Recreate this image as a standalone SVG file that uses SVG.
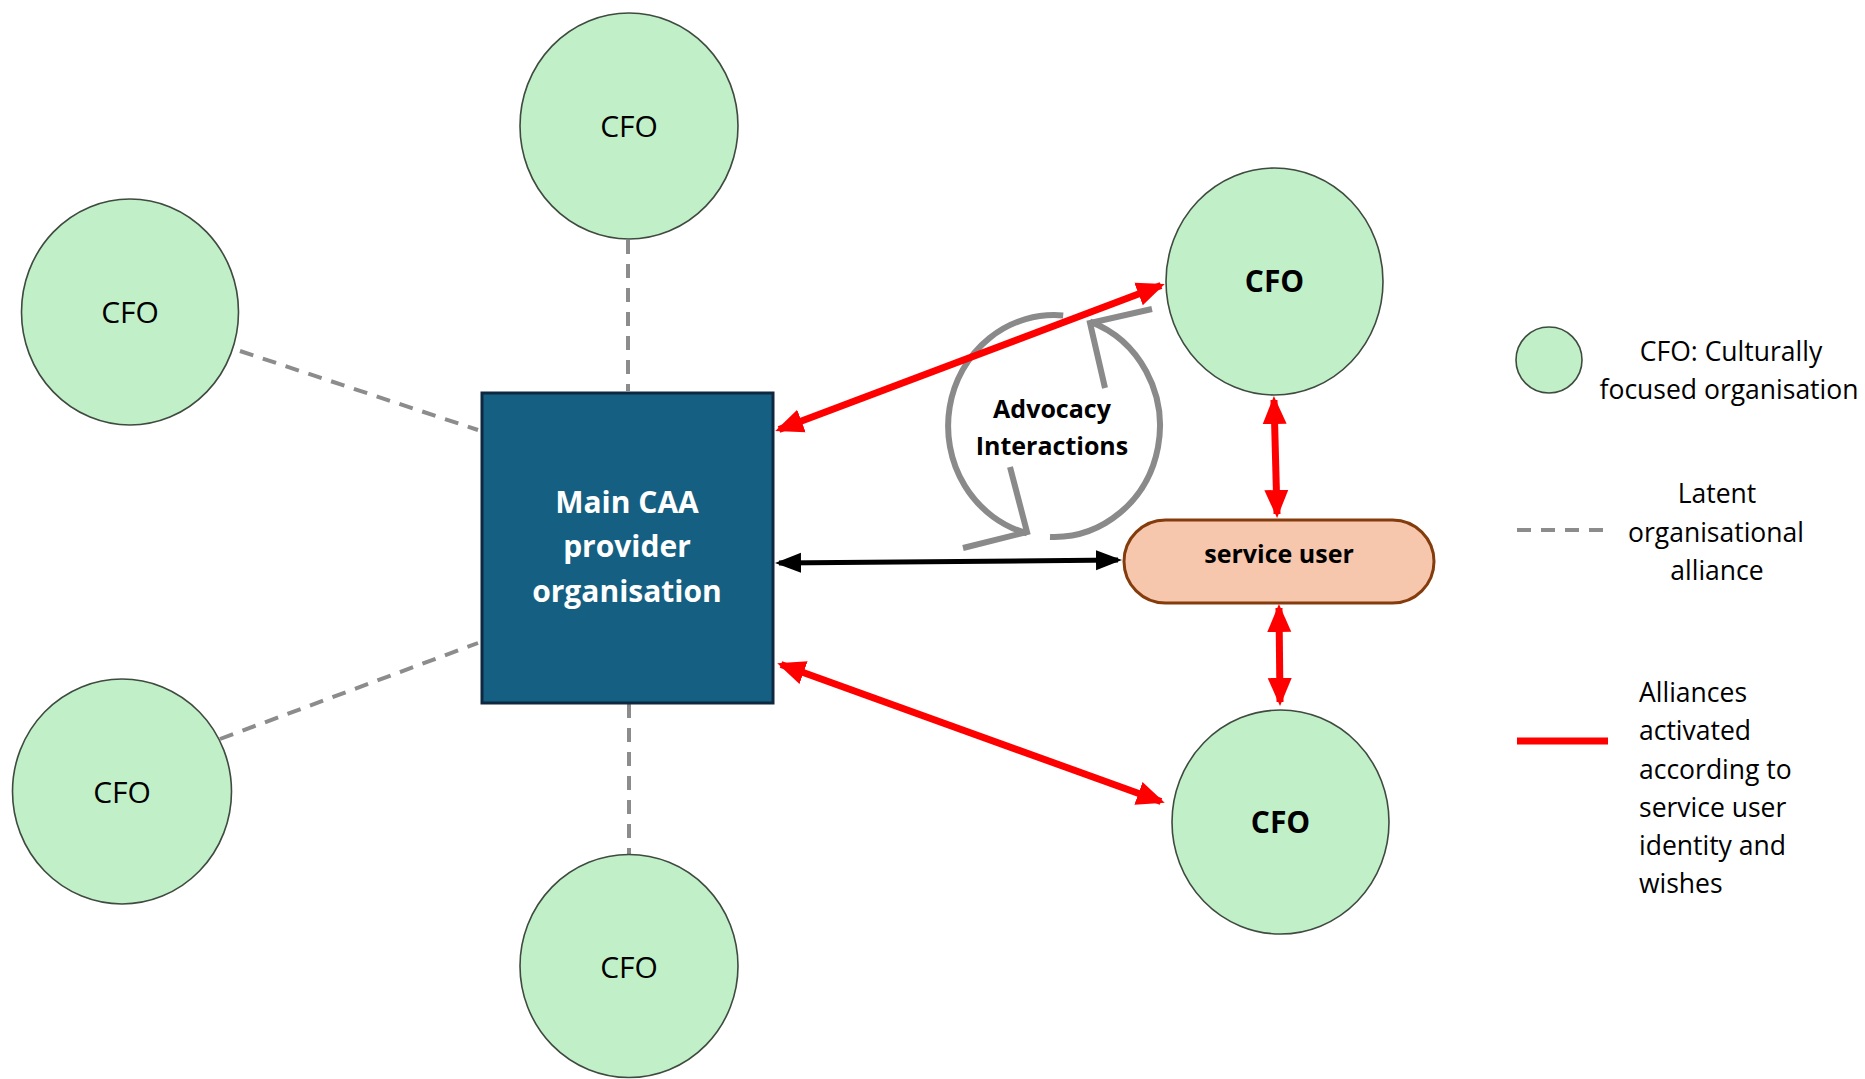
<svg xmlns="http://www.w3.org/2000/svg" width="1865" height="1079" viewBox="0 0 1865 1079">
  <style>
    .cfo { fill: #C1F0C8; stroke: #3f4a40; stroke-width: 1.6; }
    .t { font-family: "Open Sans", "Liberation Sans", sans-serif; fill: #000; text-anchor: middle; }
    .cfot { font-size: 30px; }
    .bold { font-weight: bold; }
    .leg { font-size: 26.5px; }
    .dash { stroke: #8c8c8c; stroke-width: 4; stroke-dasharray: 14 10; fill: none; }
    .red { stroke: #FF0000; stroke-width: 7; fill: none; }
    .blk { stroke: #000; stroke-width: 5; fill: none; }
    .cyc { stroke: #8a8a8a; stroke-width: 6; fill: none; stroke-linejoin: miter; }
  </style>
  <defs>
    <marker id="ar" markerUnits="userSpaceOnUse" markerWidth="30" markerHeight="26" viewBox="0 0 30 26" refX="24" refY="13" orient="auto-start-reverse">
      <path d="M0,1 L28,13 L0,25 Z" fill="#FF0000"/>
    </marker>
    <marker id="ab" markerUnits="userSpaceOnUse" markerWidth="28" markerHeight="24" viewBox="0 0 28 24" refX="22" refY="12" orient="auto-start-reverse">
      <path d="M0,2 L26,12 L0,22 Z" fill="#000"/>
    </marker>
  </defs>
  <rect width="1865" height="1079" fill="#fff"/>

  <g id="connectors">
    <line class="dash" x1="628" y1="240" x2="628" y2="391"/>
    <line class="dash" x1="240" y1="351" x2="478" y2="430"/>
    <line class="dash" x1="220" y1="739" x2="478" y2="643"/>
    <line class="dash" x1="629" y1="704" x2="629" y2="855"/>
  </g>

  <g id="cfo-top">
    <ellipse class="cfo" cx="629" cy="126" rx="109" ry="113"/>
    <text class="t cfot" x="629" y="137">CFO</text>
  </g>
  <g id="cfo-upper-left">
    <ellipse class="cfo" cx="130" cy="312" rx="108.5" ry="113"/>
    <text class="t cfot" x="130" y="323">CFO</text>
  </g>
  <g id="cfo-lower-left">
    <ellipse class="cfo" cx="122" cy="791.5" rx="109.5" ry="112.5"/>
    <text class="t cfot" x="122" y="803">CFO</text>
  </g>
  <g id="cfo-bottom">
    <ellipse class="cfo" cx="629" cy="966" rx="109" ry="111.5"/>
    <text class="t cfot" x="629" y="978">CFO</text>
  </g>
  <g id="cfo-right-top">
    <ellipse class="cfo" cx="1274.5" cy="281.5" rx="108.5" ry="113.5"/>
    <text class="t cfot bold" x="1274.5" y="292">CFO</text>
  </g>
  <g id="cfo-right-bottom">
    <ellipse class="cfo" cx="1280.5" cy="822" rx="108.5" ry="112"/>
    <text class="t cfot bold" x="1280.5" y="833">CFO</text>
  </g>

  <g id="main-caa">
    <rect x="482" y="393" width="291" height="310" fill="#156082" stroke="#0E2841" stroke-width="3"/>
    <text class="t bold" x="627" y="513" font-size="30" style="fill:#fff">Main CAA</text>
    <text class="t bold" x="627" y="557" font-size="30" style="fill:#fff">provider</text>
    <text class="t bold" x="627" y="602" font-size="30" style="fill:#fff">organisation</text>
  </g>

  <g id="service-user">
    <rect x="1124" y="520" width="310" height="83" rx="41.5" fill="#F6C6AD" stroke="#843C0C" stroke-width="3"/>
    <text class="t bold" x="1279" y="563" font-size="25">service user</text>
  </g>

  <g id="advocacy">
    <path class="cyc" d="M1063.2,315.4 A106 111 0 0 0 1027,533.3"/>
    <polyline class="cyc" points="1010,467 1027,532 963,548"/>
    <path class="cyc" d="M1050,536.9 A106 111 0 0 0 1090,321.6"/>
    <polyline class="cyc" points="1105,388 1090,323 1152,309"/>
    <text class="t bold" x="1052" y="418" font-size="25">Advocacy</text>
    <text class="t bold" x="1052" y="455" font-size="25">Interactions</text>
  </g>

  <g id="arrows">
    <line class="red" x1="779" y1="429.5" x2="1161" y2="285.5" marker-start="url(#ar)" marker-end="url(#ar)"/>
    <line class="red" x1="781" y1="664.5" x2="1161" y2="801.5" marker-start="url(#ar)" marker-end="url(#ar)"/>
    <line class="red" x1="1274" y1="400" x2="1277" y2="514" marker-start="url(#ar)" marker-end="url(#ar)"/>
    <line class="red" x1="1279" y1="608" x2="1280" y2="702" marker-start="url(#ar)" marker-end="url(#ar)"/>
    <line class="blk" x1="779" y1="563" x2="1118" y2="560" marker-start="url(#ab)" marker-end="url(#ab)"/>
  </g>

  <g id="legend">
    <ellipse class="cfo" cx="1549" cy="360" rx="33" ry="33"/>
    <text class="t leg" x="1731" y="361">CFO: Culturally</text>
    <text class="t leg" x="1729" y="399">focused organisation</text>
    <line class="dash" x1="1517" y1="530" x2="1608" y2="530" stroke-dasharray="14 12"/>
    <text class="t leg" x="1717" y="503">Latent</text>
    <text class="t leg" x="1716" y="542">organisational</text>
    <text class="t leg" x="1717" y="580">alliance</text>
    <line x1="1517" y1="741" x2="1608" y2="741" stroke="#FF0000" stroke-width="7"/>
    <g class="t leg" style="text-anchor:start">
      <text x="1639" y="702">Alliances</text>
      <text x="1639" y="740">activated</text>
      <text x="1639" y="779">according to</text>
      <text x="1639" y="817">service user</text>
      <text x="1639" y="855">identity and</text>
      <text x="1639" y="893">wishes</text>
    </g>
  </g>
</svg>
